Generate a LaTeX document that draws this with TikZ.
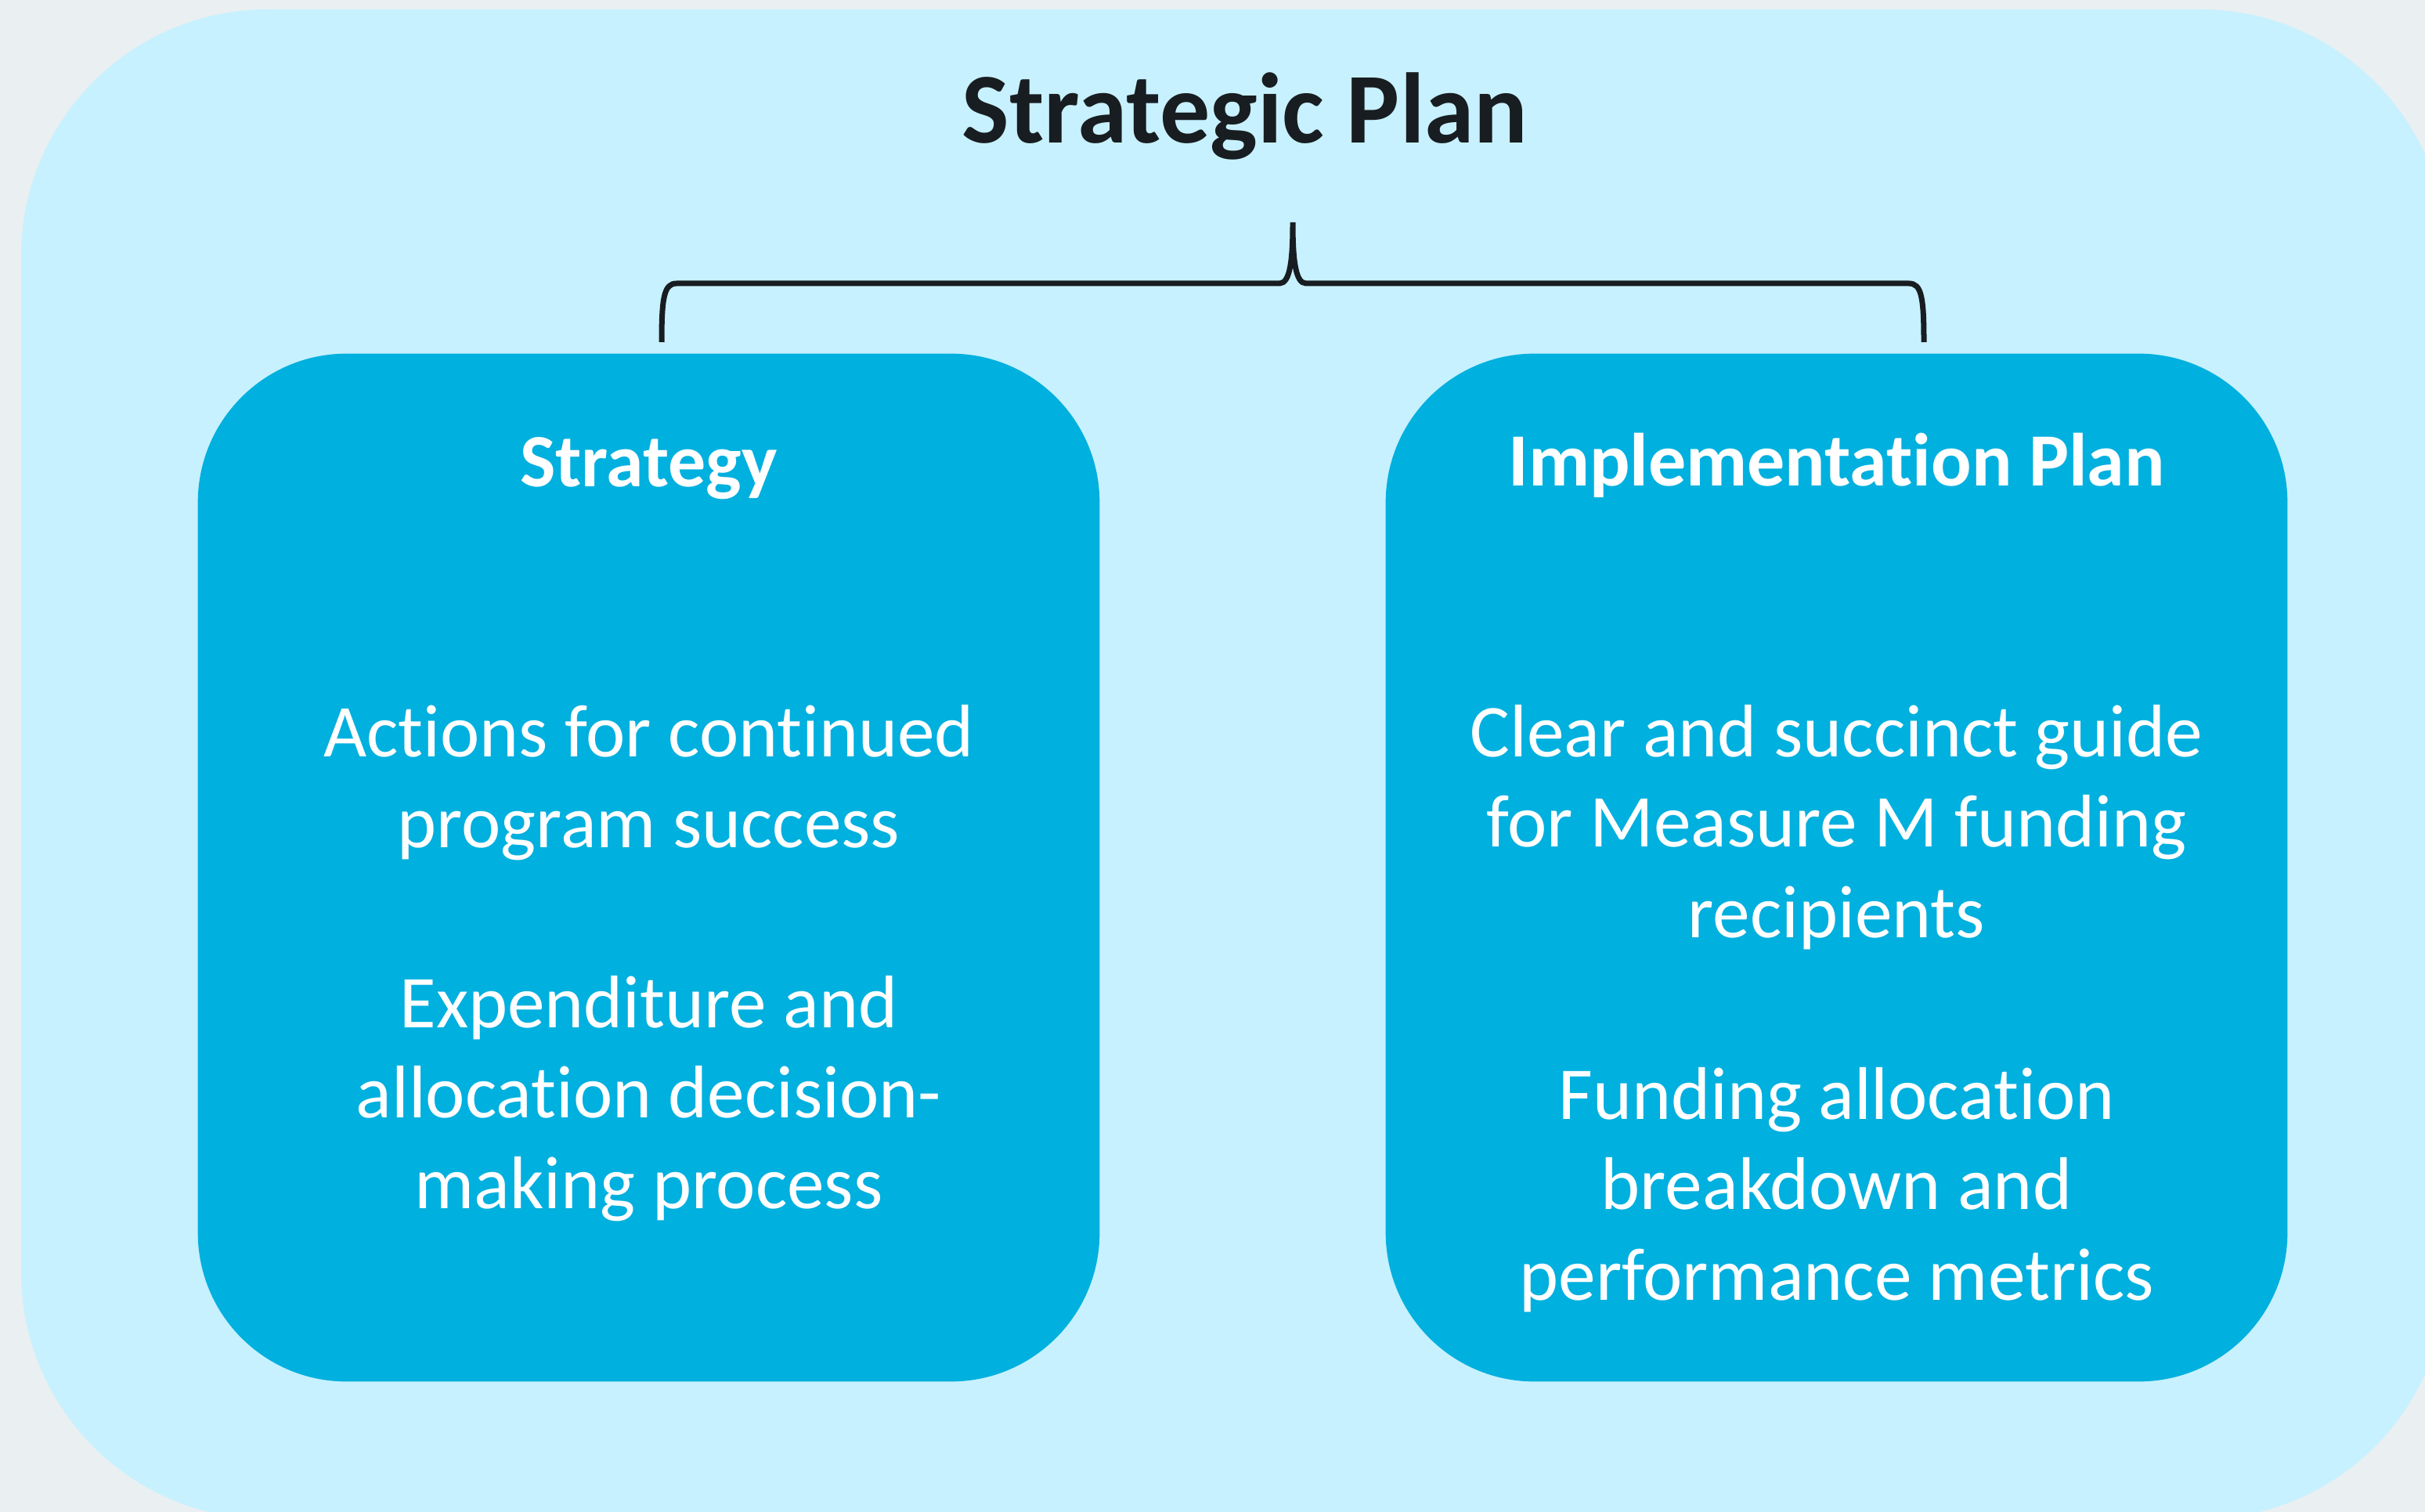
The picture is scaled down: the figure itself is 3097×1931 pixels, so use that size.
\documentclass[tikz,border=0pt]{standalone}
\usepackage{fontspec}
\setmainfont{Carlito}[Ligatures=NoCommon]
\usepackage{tikz}
\usetikzlibrary{positioning}

\definecolor{pagebg}{HTML}{EAEFF2}
\definecolor{panelcyan}{HTML}{C7F1FE}
\definecolor{boxblue}{HTML}{00B0DF}
\definecolor{bracedark}{HTML}{181D21}

\begin{document}
\begin{tikzpicture}[x=0.01cm, y=-0.01cm,
    planbox/.style={fill=boxblue, rounded corners=1.9cm, minimum width=11.51cm, minimum height=13.12cm, inner sep=0pt},
    headtext/.style={white, font=\fontsize{27.3}{33}\selectfont\bfseries, anchor=base},
    bodytext/.style={white, font=\fontsize{27.1}{32.8}\selectfont, align=center, anchor=base}]
    % Page and outer panel
    \useasboundingbox (0,0) rectangle (3097,1931);
    \fill[pagebg] (0,0) rectangle (3097,1931);
    \fill[panelcyan, rounded corners=3.15cm] (27,12) rectangle (3125,1940);

    % Title
    \node[bracedark, font=\fontsize{36.4}{44}\selectfont\bfseries, anchor=base] (title) at (1590,183) {Strategic Plan};

    % The two boxes
    \node[planbox] (strategy) at (828.5,1108) {};
    \node[planbox] (implplan) at (2345.5,1108) {};

    % Brace under the title
    \coordinate (tip) at (1651,284);
    \coordinate (leftend) at (845,437);
    \coordinate (rightend) at (2457,437);
    \draw[bracedark, line width=0.07cm] (leftend) .. controls (845,380) and (848,362) .. (864,362) -- (1634,362)
        .. controls (1648,362) and (1651,330) .. (tip)
        .. controls (1651,330) and (1654,362) .. (1668,362) -- (2438,362)
        .. controls (2454,362) and (2457,380) .. (rightend);

    % Headings
    \node[headtext] (strategyhead) at (828.5,622) {Strategy};
    \node[headtext] (implhead) at (2345.5,621) {Implementation Plan};

    % Left box text (anchored at the last line)
    \node[bodytext] (actions) at (828.5,1082) {Actions for continued\\program success};
    \node[bodytext] (expenditure) at (828.5,1543) {Expenditure and\\allocation decision-\\making process};

    % Right box text
    \node[bodytext] (guide) at (2345.5,1197) {Clear and succinct guide\\for Measure M funding\\recipients};
    \node[bodytext] (metrics) at (2345.5,1660) {Funding allocation\\breakdown and\\performance metrics};
\end{tikzpicture}
\end{document}
